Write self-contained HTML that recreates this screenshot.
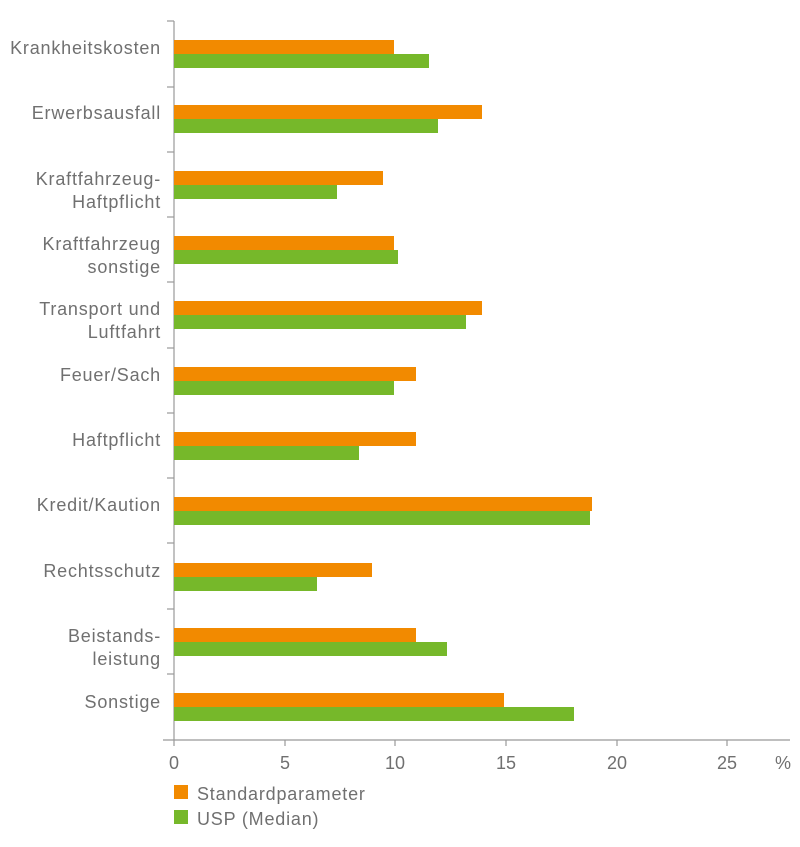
<!DOCTYPE html><html><head><meta charset="utf-8"><style>body{margin:0;background:#fff}</style></head><body>
<svg width="800" height="842" xmlns="http://www.w3.org/2000/svg" font-family="Liberation Sans, sans-serif" font-size="18" letter-spacing="0.8" fill="#707070">
<g stroke="#999" stroke-width="1.2">
<line x1="174" y1="21" x2="174" y2="740"/>
<line x1="163" y1="740" x2="790" y2="740"/>
<line x1="167" y1="21" x2="174" y2="21"/><line x1="167" y1="87" x2="174" y2="87"/><line x1="167" y1="152" x2="174" y2="152"/><line x1="167" y1="217" x2="174" y2="217"/><line x1="167" y1="282" x2="174" y2="282"/><line x1="167" y1="348" x2="174" y2="348"/><line x1="167" y1="413" x2="174" y2="413"/><line x1="167" y1="478" x2="174" y2="478"/><line x1="167" y1="543" x2="174" y2="543"/><line x1="167" y1="609" x2="174" y2="609"/><line x1="167" y1="674" x2="174" y2="674"/>
<line x1="174" y1="740" x2="174" y2="746"/><line x1="285" y1="740" x2="285" y2="746"/><line x1="395" y1="740" x2="395" y2="746"/><line x1="506" y1="740" x2="506" y2="746"/><line x1="617" y1="740" x2="617" y2="746"/><line x1="727" y1="740" x2="727" y2="746"/>
</g>
<g>
<rect x="174" y="40" width="220" height="14" fill="#f28a00"/><rect x="174" y="54" width="255" height="14" fill="#76b82a"/>
<rect x="174" y="105" width="308" height="14" fill="#f28a00"/><rect x="174" y="119" width="264" height="14" fill="#76b82a"/>
<rect x="174" y="171" width="209" height="14" fill="#f28a00"/><rect x="174" y="185" width="163" height="14" fill="#76b82a"/>
<rect x="174" y="236" width="220" height="14" fill="#f28a00"/><rect x="174" y="250" width="224" height="14" fill="#76b82a"/>
<rect x="174" y="301" width="308" height="14" fill="#f28a00"/><rect x="174" y="315" width="292" height="14" fill="#76b82a"/>
<rect x="174" y="367" width="242" height="14" fill="#f28a00"/><rect x="174" y="381" width="220" height="14" fill="#76b82a"/>
<rect x="174" y="432" width="242" height="14" fill="#f28a00"/><rect x="174" y="446" width="185" height="14" fill="#76b82a"/>
<rect x="174" y="497" width="418" height="14" fill="#f28a00"/><rect x="174" y="511" width="416" height="14" fill="#76b82a"/>
<rect x="174" y="563" width="198" height="14" fill="#f28a00"/><rect x="174" y="577" width="143" height="14" fill="#76b82a"/>
<rect x="174" y="628" width="242" height="14" fill="#f28a00"/><rect x="174" y="642" width="273" height="14" fill="#76b82a"/>
<rect x="174" y="693" width="330" height="14" fill="#f28a00"/><rect x="174" y="707" width="400" height="14" fill="#76b82a"/>
</g>
<g text-anchor="end">
<text x="161" y="54">Krankheitskosten</text>
<text x="161" y="119">Erwerbsausfall</text>
<text x="161" y="185">Kraftfahrzeug-</text><text x="161" y="208">Haftpflicht</text>
<text x="161" y="250">Kraftfahrzeug</text><text x="161" y="273">sonstige</text>
<text x="161" y="315">Transport und</text><text x="161" y="338">Luftfahrt</text>
<text x="161" y="381">Feuer/Sach</text>
<text x="161" y="446">Haftpflicht</text>
<text x="161" y="511">Kredit/Kaution</text>
<text x="161" y="577">Rechtsschutz</text>
<text x="161" y="642">Beistands-</text><text x="161" y="665">leistung</text>
<text x="161" y="708">Sonstige</text>
</g>
<g text-anchor="middle" letter-spacing="0">
<text x="174" y="769">0</text><text x="285" y="769">5</text><text x="395" y="769">10</text><text x="506" y="769">15</text><text x="617" y="769">20</text><text x="727" y="769">25</text><text x="783" y="769">%</text>
</g>
<rect x="174" y="785" width="14" height="14" fill="#f28a00"/><text x="197" y="800">Standardparameter</text>
<rect x="174" y="810" width="14" height="14" fill="#76b82a"/><text x="197" y="825">USP (Median)</text>
</svg>
</body></html>
